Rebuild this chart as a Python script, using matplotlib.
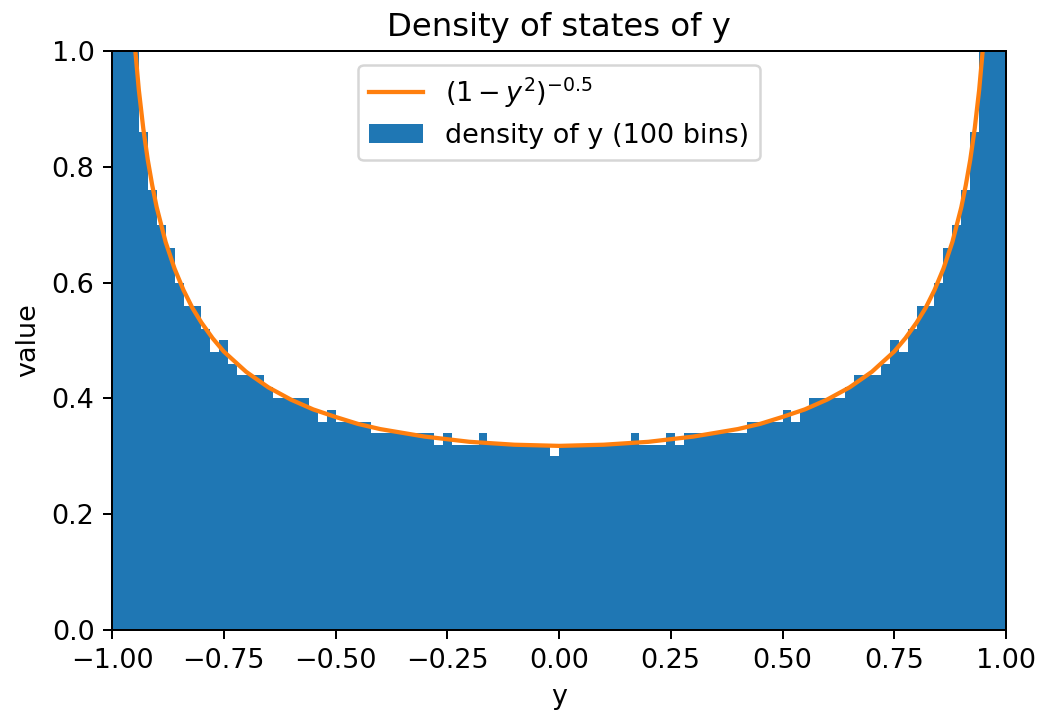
import matplotlib
matplotlib.use('Agg')
import matplotlib.pyplot as plt
import numpy as np

plt.rcParams['font.size'] = 10.8

# histogram bin edges: 100 bins on [-1, 1]
edges = np.linspace(-1, 1, 101)

# density of each bin (left to right)
density = [3.18, 1.32, 1.02, 0.86, 0.76, 0.70, 0.66, 0.60, 0.56, 0.56,
           0.52, 0.48, 0.50, 0.46, 0.44, 0.44, 0.44, 0.42, 0.40, 0.40,
           0.40, 0.40, 0.38, 0.36, 0.38, 0.36, 0.36, 0.36, 0.36, 0.34,
           0.34, 0.34, 0.34, 0.34, 0.34, 0.34, 0.32, 0.34, 0.32, 0.32,
           0.32, 0.34, 0.32, 0.32, 0.32, 0.32, 0.32, 0.32, 0.32, 0.30,
           0.32, 0.32, 0.32, 0.32, 0.32, 0.32, 0.32, 0.32, 0.34, 0.32,
           0.32, 0.32, 0.34, 0.32, 0.34, 0.34, 0.34, 0.34, 0.34, 0.34,
           0.34, 0.36, 0.36, 0.36, 0.36, 0.38, 0.36, 0.38, 0.40, 0.40,
           0.40, 0.40, 0.42, 0.44, 0.44, 0.44, 0.46, 0.50, 0.48, 0.52,
           0.56, 0.56, 0.60, 0.66, 0.70, 0.76, 0.86, 1.02, 1.32, 3.18]

# points of the orange curve
curve_x = [-0.96, -0.95, -0.94, -0.93, -0.92, -0.91, -0.90, -0.88, -0.86,
           -0.84, -0.82, -0.80, -0.775, -0.75, -0.70, -0.65, -0.60, -0.55,
           -0.50, -0.45, -0.40, -0.30, -0.20, -0.10, 0.00,
           0.10, 0.20, 0.30, 0.40, 0.45, 0.50, 0.55, 0.60, 0.65, 0.70,
           0.75, 0.775, 0.80, 0.82, 0.84, 0.86, 0.88, 0.90, 0.91, 0.92,
           0.93, 0.94, 0.95, 0.96]
curve_y = [1.137, 1.019, 0.933, 0.866, 0.812, 0.768, 0.730, 0.670, 0.624,
           0.587, 0.556, 0.531, 0.504, 0.481, 0.446, 0.419, 0.398, 0.381,
           0.368, 0.356, 0.347, 0.334, 0.325, 0.320, 0.318,
           0.320, 0.325, 0.334, 0.347, 0.356, 0.368, 0.381, 0.398, 0.419, 0.446,
           0.481, 0.504, 0.531, 0.556, 0.587, 0.624, 0.670, 0.730, 0.768, 0.812,
           0.866, 0.933, 1.019, 1.137]

fig = plt.figure(figsize=(1038 / 180, 717 / 180), dpi=180)
ax = fig.add_axes([112 / 1038, 1 - 630 / 717, 894 / 1038, 579 / 717])

ax.plot(curve_x, curve_y, color='C1', lw=1.7, label=r'$(1-y^2)^{-0.5}$')
ax.hist(edges[:-1], bins=edges, weights=density, color='C0',
        label='density of y (100 bins)')

ax.set_xlim(-1, 1)
ax.set_ylim(0, 1)
ax.set_title('Density of states of y')
ax.set_xlabel('y')
ax.set_ylabel('value')
ax.legend(loc='upper center')

fig.savefig('out.png', dpi=180)
